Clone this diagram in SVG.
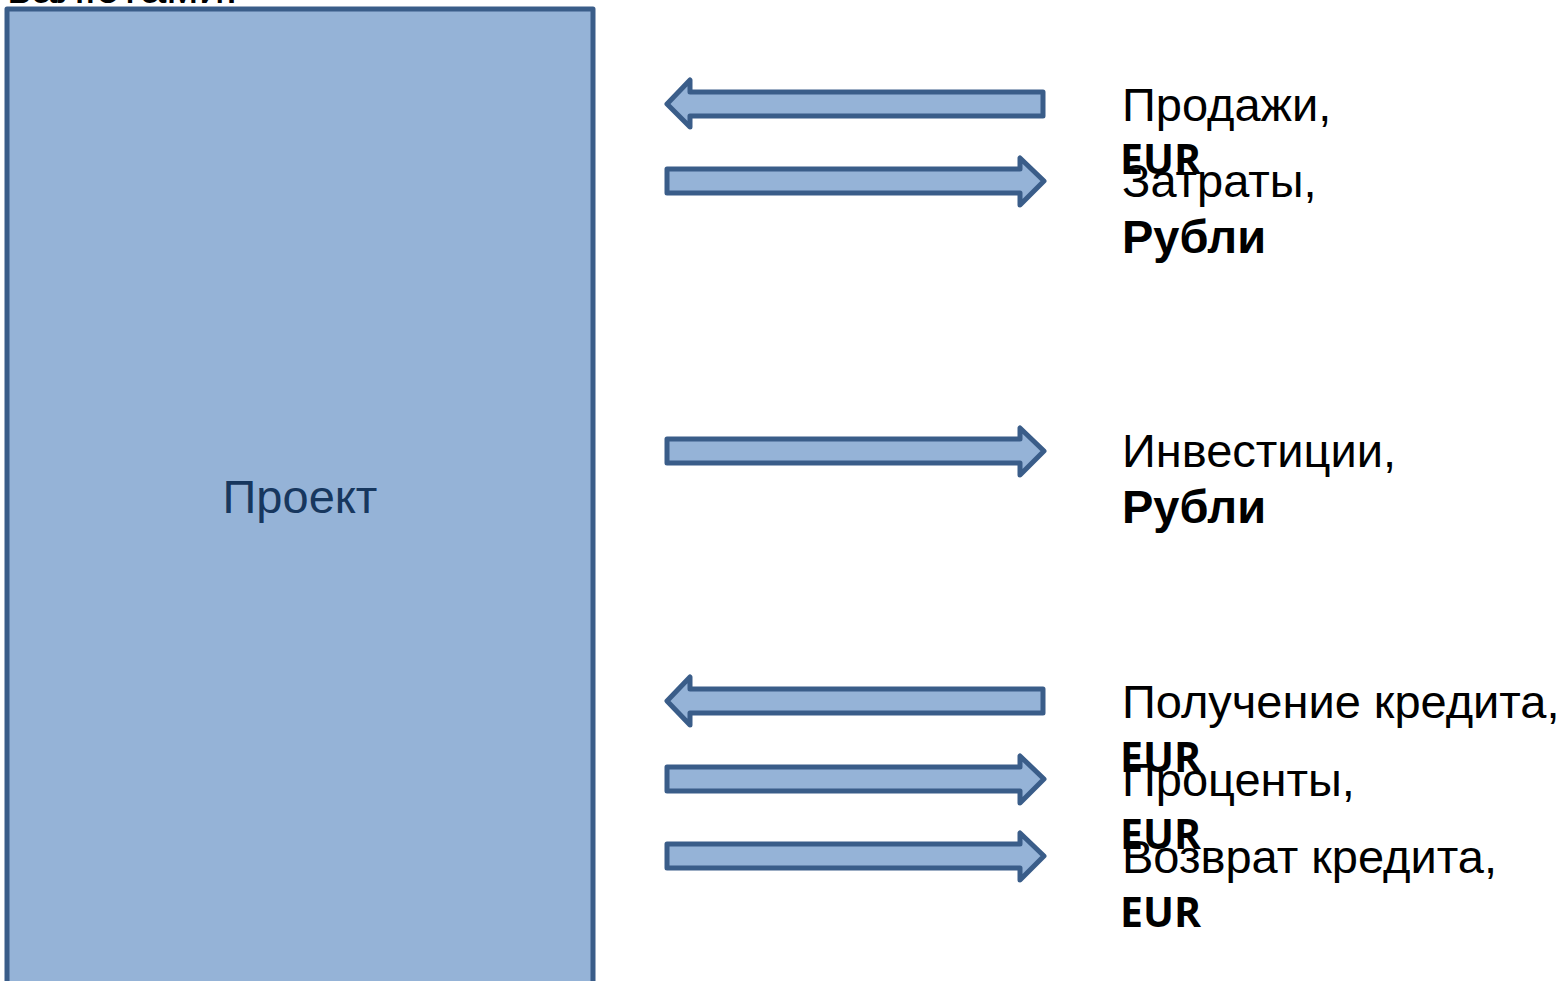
<svg xmlns="http://www.w3.org/2000/svg" width="1568" height="981" viewBox="0 0 1568 981">
<style>
.shape{fill:#95b3d7;stroke:#3a5d89;stroke-width:5;stroke-linejoin:round}
.lbl{font-family:"Liberation Sans",Arial,sans-serif;font-size:47px;fill:#000}
.b{font-weight:bold}
.cur{font-family:"Open Sans","Liberation Sans",sans-serif;font-size:41px;font-weight:bold;fill:#000}
</style>
<rect width="1568" height="981" fill="#fff"/>
<text class="lbl" x="7" y="3">валютами:</text>
<g id="project">
<rect class="shape" x="7" y="9" width="586" height="1000"/>
<text x="300" y="513" text-anchor="middle" font-family="'Liberation Sans',Arial,sans-serif" font-size="47" fill="#17375e">Проект</text>
</g>
<g id="connectors">
<path class="shape" d="M667,104 L690,80 L690,92 L1043,92 L1043,116 L690,116 L690,127 Z"/>
<path class="shape" d="M1044,181 L1020,158 L1020,169 L667,169 L667,193 L1020,193 L1020,205 Z"/>
<path class="shape" d="M1044,451 L1020,428 L1020,439 L667,439 L667,463 L1020,463 L1020,475 Z"/>
<path class="shape" d="M667,701 L690,677 L690,689 L1043,689 L1043,713 L690,713 L690,725 Z"/>
<path class="shape" d="M1044,779 L1020,756 L1020,767 L667,767 L667,791 L1020,791 L1020,803 Z"/>
<path class="shape" d="M1044,856 L1020,833 L1020,844 L667,844 L667,868 L1020,868 L1020,880 Z"/>
</g>
<g id="sales"><text class="lbl" x="1122" y="121">Продажи,</text><text class="cur" x="1120" y="174">EUR</text></g>
<g id="costs"><text class="lbl" x="1122" y="197">Затраты,</text><text class="lbl b" x="1122" y="253">Рубли</text></g>
<g id="invest"><text class="lbl" x="1122" y="467">Инвестиции,</text><text class="lbl b" x="1122" y="523">Рубли</text></g>
<g id="loan"><text class="lbl" x="1122" y="718">Получение кредита,</text><text class="cur" x="1120" y="772">EUR</text></g>
<g id="interest"><text class="lbl" x="1122" y="796">Проценты,</text><text class="cur" x="1120" y="849">EUR</text></g>
<g id="repay"><text class="lbl" x="1122" y="873">Возврат кредита,</text><text class="cur" x="1120" y="927">EUR</text></g>
</svg>
